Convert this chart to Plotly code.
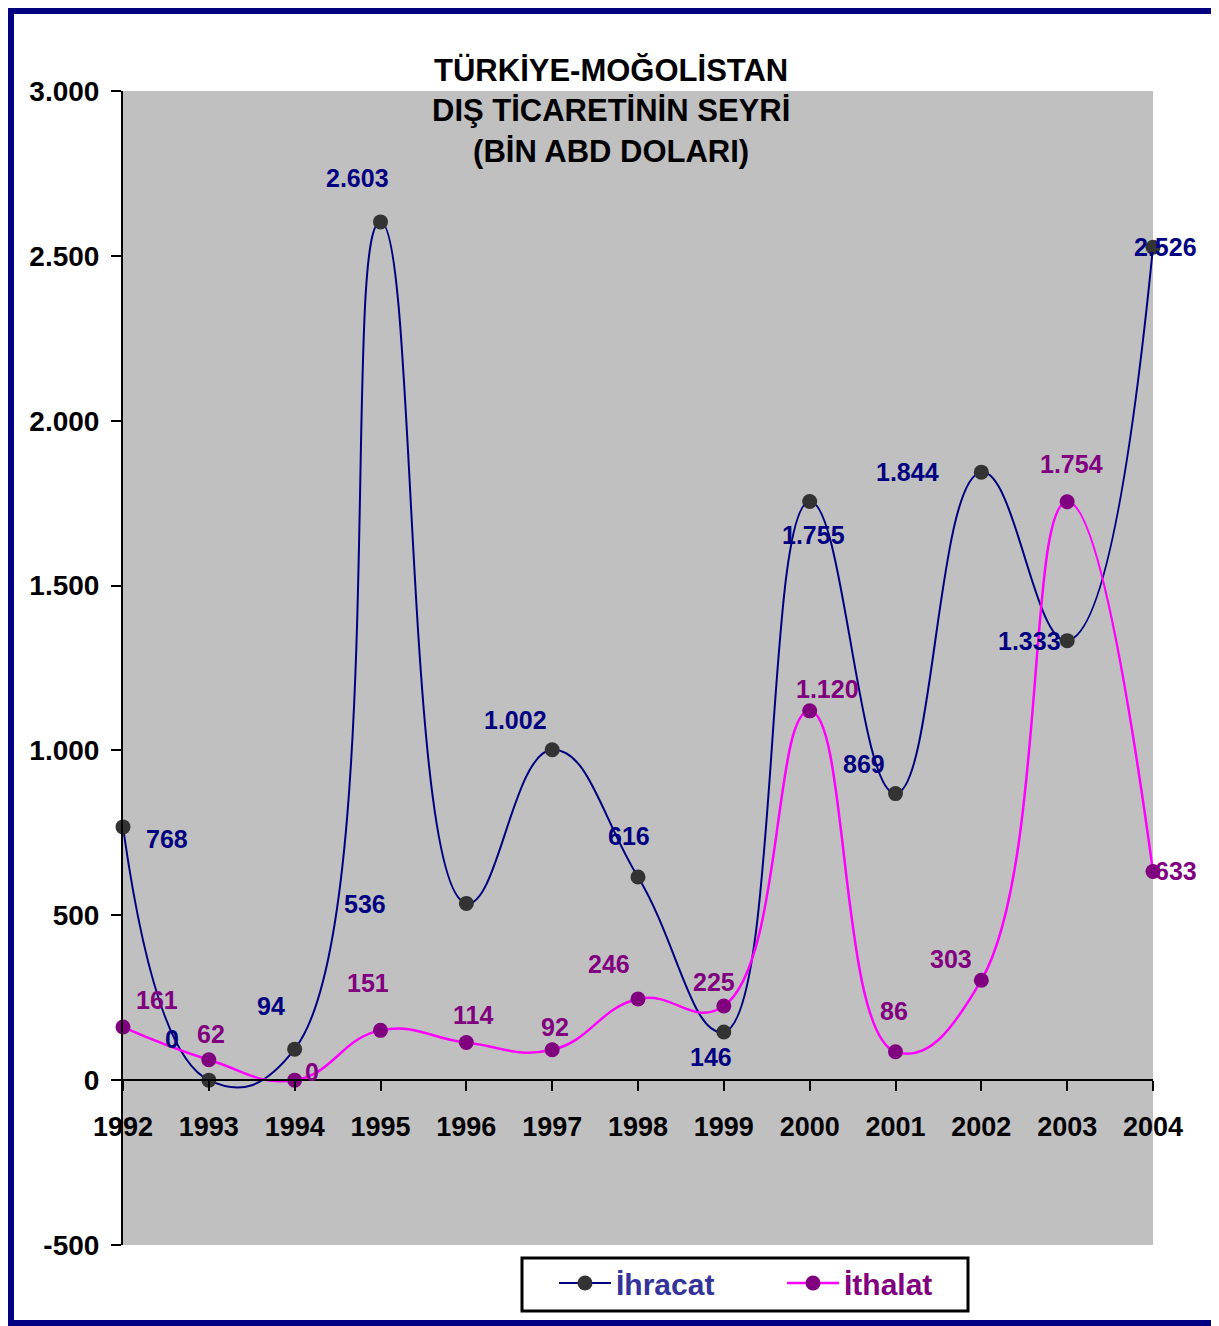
import plotly.graph_objects as go

years = [1992, 1993, 1994, 1995, 1996, 1997, 1998, 1999, 2000, 2001, 2002, 2003, 2004]
ihracat = [768, 0, 94, 2603, 536, 1002, 616, 146, 1755, 869, 1844, 1333, 2526]
ithalat = [161, 62, 0, 151, 114, 92, 246, 225, 1120, 86, 303, 1754, 633]
y_ticks = [-500, 0, 500, 1000, 1500, 2000, 2500, 3000]
y_tick_labels = ["-500", "0", "500", "1.000", "1.500", "2.000", "2.500", "3.000"]
x_tick_labels = [str(y) for y in years]

# label pixel offsets (style only)
ihr_off = [(44, -12), (-37, 41), (-24, 43), (-23, 44), (-101, -1), (-37, 30), (-9, 41),
           (-13, -25), (4, -34), (-32, 30), (-74, 0), (-38, 0), (12, 0)]
ith_off = [(34, 27), (2, 26), (17, 8), (-13, 47), (7, 28), (3, 23), (-29, 35),
           (-10, 24), (18, 22), (-2, 41), (-30, 21), (4, 38), (23, 0)]

FONT = "Liberation Sans, Arial, sans-serif"
NAVY = "#000080"
PURPLE = "#800080"


def fmt(v):
    return f"{v:,}".replace(",", ".")


def px(xp):
    return (xp - 123) / 1030


def py(yp):
    return (1245 - yp) / 1154


fig = go.Figure()
fig.add_trace(go.Scatter(
    x=years, y=ihracat, mode="lines+markers",
    name="<span style='color:#333399'>İhracat</span>",
    line=dict(color=NAVY, width=2, shape="spline", smoothing=1.3),
    marker=dict(color="#333333", size=15), cliponaxis=False))
fig.add_trace(go.Scatter(
    x=years, y=ithalat, mode="lines+markers",
    name="<span style='color:#800080'>İthalat</span>",
    line=dict(color="#FF00FF", width=2.5, shape="spline", smoothing=1.3),
    marker=dict(color=PURPLE, size=15), cliponaxis=False))

annotations = []
for xv, yv, (dx, dy) in zip(years, ihracat, ihr_off):
    annotations.append(dict(x=xv, y=yv, xref="x", yref="y", text=fmt(yv), showarrow=False,
                            xshift=dx, yshift=dy,
                            font=dict(family=FONT, size=25, color=NAVY, weight="bold")))
for xv, yv, (dx, dy) in zip(years, ithalat, ith_off):
    annotations.append(dict(x=xv, y=yv, xref="x", yref="y", text=fmt(yv), showarrow=False,
                            xshift=dx, yshift=dy,
                            font=dict(family=FONT, size=25, color=PURPLE, weight="bold")))

annotations.append(dict(
    x=px(611), y=py(111), xref="paper", yref="paper",
    text="TÜRKİYE-MOĞOLİSTAN<br>DIŞ TİCARETİNİN SEYRİ<br>(BİN ABD DOLARI)",
    showarrow=False, xanchor="center", yanchor="middle",
    font=dict(family=FONT, size=31, color="black", weight="bold")))

zero_pos = (0 - (-500)) / 3500

fig.update_layout(
    width=1211, height=1318,
    margin=dict(l=115, r=66, t=83, b=81),
    paper_bgcolor="white", plot_bgcolor="#C0C0C0",
    font=dict(family=FONT, color="black"),
    showlegend=True,
    legend=dict(orientation="h", x=px(554), y=py(1283),
                xanchor="left", yanchor="middle",
                borderwidth=0, bgcolor="rgba(0,0,0,0)",
                font=dict(family=FONT, size=30, weight="bold"),
                entrywidth=161, itemwidth=52),
    annotations=annotations,
    xaxis=dict(range=[1992, 2004], tickvals=years, ticktext=x_tick_labels,
               anchor="free", position=zero_pos, showgrid=False, zeroline=False,
               showline=True, linecolor="black", linewidth=2,
               ticks="outside", ticklen=10, tickwidth=2, tickcolor="black",
               ticklabelstandoff=12,
               tickfont=dict(family=FONT, size=27, color="black", weight="bold")),
    xaxis2=dict(range=[1992, 2004], tickvals=years, overlaying="x", matches="x",
                anchor="free", position=zero_pos, showgrid=False, zeroline=False,
                showline=False, ticks="inside", ticklen=10, tickwidth=2, tickcolor="black",
                showticklabels=False),
    yaxis=dict(range=[-500, 3000], tickvals=y_ticks, ticktext=y_tick_labels,
               showgrid=False, zeroline=False, showline=True, linecolor="black", linewidth=2,
               ticks="outside", ticklen=10, tickwidth=2, tickcolor="black",
               ticklabelstandoff=6,
               tickfont=dict(family=FONT, size=28, color="black", weight="bold")),
    yaxis2=dict(range=[-500, 3000], tickvals=y_ticks, overlaying="y", matches="y",
                showgrid=False, zeroline=False, showline=False,
                ticks="inside", ticklen=10, tickwidth=2, tickcolor="black",
                showticklabels=False),
    shapes=[
        dict(type="rect", xref="paper", yref="paper",
             x0=px(11), x1=px(1216), y0=py(1323), y1=py(11),
             line=dict(color=NAVY, width=6), fillcolor="rgba(0,0,0,0)", layer="above"),
        dict(type="rect", xref="paper", yref="paper",
             x0=px(522), x1=px(968), y0=py(1311), y1=py(1258),
             line=dict(color="black", width=3), fillcolor="white", layer="below"),
    ],
)

fig.write_html("out.html")
